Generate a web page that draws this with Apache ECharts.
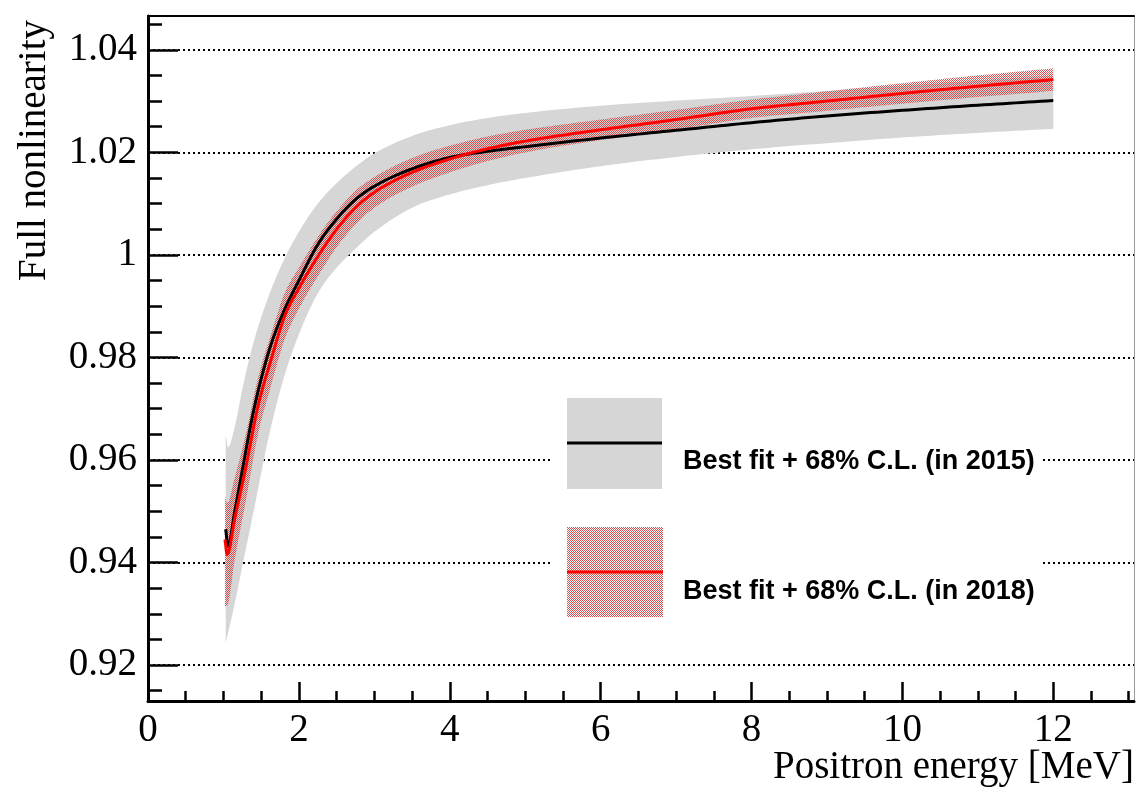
<!DOCTYPE html>
<html>
<head>
<meta charset="utf-8">
<script src="https://cdn.jsdelivr.net/npm/echarts@6/dist/echarts.min.js"></script>
<style>
html, body { margin: 0; padding: 0; background: #fff; }
#chart { width: 1137px; height: 787px; }
</style>
</head>
<body>
<div id="chart"></div>
<script>
// 2015 best fit and its 68% C.L. band
const energy2015 = [1.03, 1.06, 1.15, 1.26, 1.4, 1.6, 1.8, 2.0, 2.25, 2.5, 2.75, 3.0, 3.5, 4.0, 4.5, 5, 6, 7, 8, 9, 10, 11, 12];
const fit2015 = [0.9465, 0.9432, 0.9500, 0.9588, 0.9696, 0.9811, 0.9890, 0.9950, 1.0020, 1.0070, 1.0108, 1.0134, 1.0168, 1.0190, 1.0202, 1.0211, 1.0228, 1.0243, 1.0258, 1.0271, 1.0282, 1.0292, 1.0301];
const low2015 = [0.9244, 0.9262, 0.9320, 0.9400, 0.9500, 0.9645, 0.9760, 0.9845, 0.9925, 0.9975, 1.0012, 1.0045, 1.0092, 1.0118, 1.0136, 1.0150, 1.0173, 1.0191, 1.0206, 1.0218, 1.0229, 1.0238, 1.0246];
const high2015 = [0.9650, 0.9625, 0.9665, 0.9745, 0.9830, 0.9920, 0.9990, 1.0045, 1.0100, 1.0140, 1.0172, 1.0198, 1.0232, 1.0253, 1.0267, 1.0277, 1.0291, 1.0301, 1.0310, 1.0320, 1.0330, 1.0340, 1.0350];

// 2018 best fit and its 68% C.L. band
const energy2018 = [1.02, 1.05, 1.15, 1.3, 1.45, 1.64, 1.81, 2.0, 2.3, 2.5, 2.75, 3.0, 3.5, 4.0, 4.5, 5, 6, 7, 8, 9, 10, 11, 12];
const fit2018 = [0.9445, 0.9416, 0.9486, 0.9588, 0.9700, 0.9800, 0.9880, 0.9935, 1.0008, 1.0050, 1.0092, 1.0122, 1.0161, 1.0187, 1.0207, 1.0222, 1.0244, 1.0264, 1.0285, 1.0300, 1.0315, 1.0329, 1.0342];
const low2018 = [0.9315, 0.9316, 0.9406, 0.9523, 0.9645, 0.9750, 0.9835, 0.9895, 0.9970, 1.0015, 1.0059, 1.0092, 1.0133, 1.0161, 1.0183, 1.0200, 1.0224, 1.0245, 1.0267, 1.0281, 1.0295, 1.0308, 1.0320];
const high2018 = [0.9530, 0.9516, 0.9566, 0.9653, 0.9755, 0.9850, 0.9925, 0.9975, 1.0046, 1.0085, 1.0125, 1.0152, 1.0189, 1.0213, 1.0231, 1.0244, 1.0264, 1.0283, 1.0303, 1.0319, 1.0335, 1.0350, 1.0364];

const xTicks = [0, 2, 4, 6, 8, 10, 12];
const xMinorTicks = [0.5, 1, 1.5, 2.5, 3, 3.5, 4.5, 5, 5.5, 6.5, 7, 7.5, 8.5, 9, 9.5, 10.5, 11, 11.5, 12.5, 13];
const yTicks = [0.92, 0.94, 0.96, 0.98, 1, 1.02, 1.04];
const yMinorTicks = [0.915, 0.925, 0.93, 0.935, 0.945, 0.95, 0.955, 0.965, 0.97, 0.975, 0.985, 0.99, 0.995,
  1.005, 1.01, 1.015, 1.025, 1.03, 1.035, 1.045];
const legendLabels = ['Best fit + 68% C.L. (in 2015)', 'Best fit + 68% C.L. (in 2018)'];

const xMin = 0, xMax = 13.07;
const yMin = 0.913, yMax = 1.0466;

const serif = 'Liberation Serif, Times New Roman, serif';
const bandGray = '#d6d6d6';

// checkerboard fill, like the ROOT hatch style
function makeHatch() {
  const c = document.createElement('canvas');
  c.width = 2;
  c.height = 2;
  const ctx = c.getContext('2d');
  ctx.fillStyle = '#d95050';
  ctx.fillRect(0, 0, 1, 1);
  ctx.fillRect(1, 1, 1, 1);
  return c;
}
const hatch = { image: makeHatch(), repeat: 'repeat' };

// monotone cubic through pixel points (x increasing), keeps curves and band edges smooth
function smoothEdge(pts, steps) {
  const n = pts.length;
  const dx = [], s = [];
  for (let i = 0; i < n - 1; i++) {
    dx[i] = pts[i + 1][0] - pts[i][0];
    s[i] = (pts[i + 1][1] - pts[i][1]) / dx[i];
  }
  const m = new Array(n);
  m[0] = s[0];
  m[n - 1] = s[n - 2];
  for (let i = 1; i < n - 1; i++) {
    m[i] = s[i - 1] * s[i] <= 0 ? 0 : (s[i - 1] + s[i]) / 2;
  }
  for (let i = 0; i < n - 1; i++) {
    if (s[i] === 0) { m[i] = 0; m[i + 1] = 0; continue; }
    const a = m[i] / s[i], b = m[i + 1] / s[i];
    const h = a * a + b * b;
    if (h > 9) {
      const t = 3 / Math.sqrt(h);
      m[i] = t * a * s[i];
      m[i + 1] = t * b * s[i];
    }
  }
  const out = [];
  for (let i = 0; i < n - 1; i++) {
    for (let k = 0; k < steps; k++) {
      const t = k / steps, t2 = t * t, t3 = t2 * t;
      const y = (2 * t3 - 3 * t2 + 1) * pts[i][1] + (t3 - 2 * t2 + t) * dx[i] * m[i]
        + (-2 * t3 + 3 * t2) * pts[i + 1][1] + (t3 - t2) * dx[i] * m[i + 1];
      out.push([pts[i][0] + t * dx[i], y]);
    }
  }
  out.push(pts[n - 1]);
  return out;
}

function bandSeries(name, xs, lo, hi, fill) {
  const data = xs.map((x, i) => [x, lo[i], hi[i]]);
  return {
    name: name,
    type: 'custom',
    silent: true,
    data: data,
    encode: { x: 0, y: [1, 2] },
    renderItem: function (params, api) {
      if (params.dataIndex !== 0) return;
      const top = smoothEdge(data.map((d) => api.coord([d[0], d[2]])), 12);
      const bottom = smoothEdge(data.map((d) => api.coord([d[0], d[1]])), 12).reverse();
      return {
        type: 'polygon',
        shape: { points: top.concat(bottom) },
        style: { fill: fill, stroke: null },
      };
    },
  };
}

function curveSeries(name, xs, ys, color) {
  const data = xs.map((x, i) => [x, ys[i]]);
  return {
    name: name,
    type: 'custom',
    silent: true,
    data: data,
    encode: { x: 0, y: 1 },
    renderItem: function (params, api) {
      if (params.dataIndex !== 0) return;
      const pts = smoothEdge(data.map((d) => api.coord(d)), 12);
      return {
        type: 'polyline',
        shape: { points: pts },
        style: { stroke: color, lineWidth: 3, fill: null, lineJoin: 'round' },
      };
    },
  };
}

const tickStyle = { color: '#000', width: 2.5 };
const labelStyle = { fontFamily: serif, fontSize: 39, color: '#000' };

const chart = echarts.init(document.getElementById('chart'), null, { renderer: 'canvas' });

chart.setOption({
  animation: false,
  backgroundColor: '#fff',
  grid: { left: 148, top: 16, width: 988, height: 686, containLabel: false },
  xAxis: [
    {
      type: 'value', position: 'bottom', min: xMin, max: xMax,
      axisLine: { onZero: false, lineStyle: { color: '#000', width: 3 } },
      axisTick: { inside: true, length: 19, customValues: xTicks, lineStyle: tickStyle },
      axisLabel: Object.assign({ customValues: xTicks, margin: 10 }, labelStyle),
      splitLine: { show: false },
      name: 'Positron energy [MeV]',
      nameLocation: 'end',
      nameGap: 0,
      nameMoveOverlap: false,
      nameTextStyle: Object.assign({ align: 'right', verticalAlign: 'top', padding: [47, 0, 0, 0] }, labelStyle),
    },
    {
      type: 'value', position: 'bottom', min: xMin, max: xMax,
      axisLine: { show: false, onZero: false },
      axisTick: { inside: true, length: 10, customValues: xMinorTicks, lineStyle: tickStyle },
      axisLabel: { show: false },
      splitLine: { show: false },
    },
    {
      type: 'value', position: 'top', min: xMin, max: xMax,
      axisLine: { onZero: false, lineStyle: { color: '#000', width: 2 } },
      axisTick: { show: false },
      axisLabel: { show: false },
      splitLine: { show: false },
    },
  ],
  yAxis: [
    {
      type: 'value', position: 'left', min: yMin, max: yMax,
      axisLine: { onZero: false, lineStyle: { color: '#000', width: 3 } },
      axisTick: { inside: true, length: 30, customValues: yTicks, lineStyle: tickStyle },
      axisLabel: Object.assign({ customValues: yTicks, margin: 11, formatter: (v) => String(v) }, labelStyle),
      splitLine: { show: true, lineStyle: { color: '#000', width: 2, type: [2, 3] } },
    },
    {
      type: 'value', position: 'left', min: yMin, max: yMax,
      axisLine: { show: false, onZero: false },
      axisTick: { inside: true, length: 14, customValues: yMinorTicks, lineStyle: tickStyle },
      axisLabel: { show: false },
      splitLine: { show: false },
    },
    {
      type: 'value', position: 'right', min: yMin, max: yMax,
      axisLine: { onZero: false, lineStyle: { color: '#999', width: 1 } },
      axisTick: { show: false },
      axisLabel: { show: false },
      splitLine: { show: false },
    },
  ],
  series: [
    bandSeries('band2015', energy2015, low2015, high2015, bandGray),
    bandSeries('band2018', energy2018, low2018, high2018, hatch),
    curveSeries('fit2015', energy2015, fit2015, '#000'),
    curveSeries('fit2018', energy2018, fit2018, '#ff0000'),
  ],
  graphic: [
    {
      type: 'text', z: 10, x: 35, y: 20, rotation: Math.PI / 2,
      style: { text: 'Full nonlinearity', font: '39px ' + serif, fill: '#000', align: 'right', verticalAlign: 'middle' },
    },
    // legend box
    { type: 'rect', z: 10, shape: { x: 550, y: 376, width: 492, height: 262 }, style: { fill: '#fff' } },
    { type: 'rect', z: 11, shape: { x: 567, y: 398, width: 95, height: 91 }, style: { fill: bandGray } },
    { type: 'line', z: 12, shape: { x1: 567, y1: 443, x2: 662, y2: 443 }, style: { stroke: '#000', lineWidth: 3 } },
    {
      type: 'text', z: 12, x: 683, y: 462,
      style: { text: legendLabels[0], font: 'bold 27px Liberation Sans, Arial, sans-serif', fill: '#000', verticalAlign: 'middle' },
    },
    { type: 'rect', z: 11, shape: { x: 567, y: 527, width: 96, height: 90 }, style: { fill: hatch } },
    { type: 'line', z: 12, shape: { x1: 567, y1: 572, x2: 663, y2: 572 }, style: { stroke: '#ff0000', lineWidth: 3 } },
    {
      type: 'text', z: 12, x: 683, y: 592,
      style: { text: legendLabels[1], font: 'bold 27px Liberation Sans, Arial, sans-serif', fill: '#000', verticalAlign: 'middle' },
    },
  ],
});
</script>
</body>
</html>
